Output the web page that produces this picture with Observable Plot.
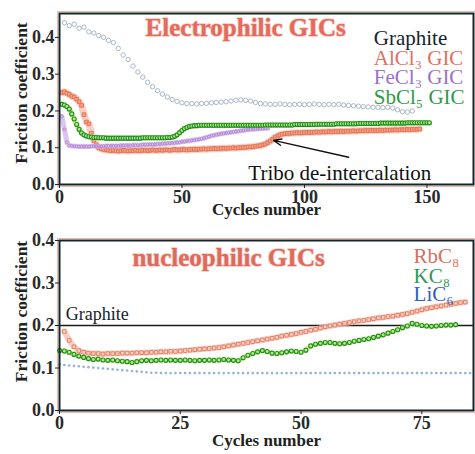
<!DOCTYPE html>
<html>
<head>
<meta charset="utf-8">
<script src="https://cdn.jsdelivr.net/npm/d3@7"></script>
<script src="https://cdn.jsdelivr.net/npm/@observablehq/plot@0.6"></script>
<style>
  html, body { margin: 0; padding: 0; background: #fff; }
  #charts { width: 475px; }
  #charts svg { display: block; }
  #charts svg text { font-family: "Liberation Serif", "DejaVu Serif", serif; }
</style>
</head>
<body>
<div id="charts"></div>
<script>
// ---------- Top panel: electrophilic GICs ----------
const topXTicks = [0, 50, 100, 150];
const yTicks = [0, 0.1, 0.2, 0.3, 0.4];

// Graphite: values at cycles 2, 4, 6, ...
const graphiteStart = 2, graphiteStep = 2;
const graphite = [
  0.440, 0.432, 0.436, 0.425, 0.428, 0.415, 0.412, 0.405, 0.400, 0.392,
  0.386, 0.370, 0.352, 0.340, 0.322, 0.306, 0.292, 0.278, 0.266, 0.255,
  0.246, 0.238, 0.231, 0.226, 0.222, 0.220, 0.220, 0.219, 0.220, 0.221,
  0.222, 0.223, 0.224, 0.225, 0.227, 0.229, 0.230, 0.229, 0.227, 0.223,
  0.220, 0.219, 0.218, 0.218, 0.219, 0.218, 0.217, 0.218, 0.218, 0.217,
  0.218, 0.219, 0.218, 0.217, 0.218, 0.217, 0.218, 0.216, 0.215, 0.214,
  0.213, 0.212, 0.211, 0.210, 0.210, 0.209, 0.210, 0.208, 0.203, 0.198,
  0.197, 0.200
];

// AlCl3 GIC: values at cycles 1, 2, 3, ...
const alcl3 = [
  0.250, 0.252, 0.248, 0.245, 0.240, 0.238, 0.232, 0.225, 0.215, 0.190,
  0.170, 0.165, 0.140, 0.120, 0.108, 0.100, 0.097, 0.095, 0.094, 0.093,
  0.092, 0.093, 0.092, 0.091, 0.092, 0.093, 0.092, 0.091, 0.092, 0.092,
  0.093, 0.092, 0.092, 0.093, 0.093, 0.092, 0.093, 0.094, 0.093, 0.093,
  0.094, 0.093, 0.094, 0.094, 0.093, 0.094, 0.095, 0.094, 0.094, 0.095,
  0.095, 0.094, 0.095, 0.095, 0.096, 0.095, 0.096, 0.096, 0.097, 0.096,
  0.097, 0.097, 0.098, 0.097, 0.098, 0.098, 0.099, 0.098, 0.099, 0.099,
  0.100, 0.099, 0.100, 0.100, 0.101, 0.101, 0.102, 0.102, 0.103, 0.104,
  0.105, 0.106, 0.108, 0.110, 0.114, 0.118, 0.123, 0.128, 0.132, 0.135,
  0.137, 0.138, 0.139, 0.139, 0.140, 0.140, 0.141, 0.140, 0.141, 0.141,
  0.142, 0.141, 0.142, 0.142, 0.143, 0.142, 0.143, 0.143, 0.143, 0.144,
  0.143, 0.144, 0.144, 0.144, 0.145, 0.144, 0.145, 0.145, 0.145, 0.146,
  0.145, 0.146, 0.146, 0.146, 0.147, 0.146, 0.147, 0.147, 0.147, 0.147,
  0.148, 0.147, 0.148, 0.148, 0.148, 0.148, 0.149, 0.148, 0.149, 0.149,
  0.149, 0.150, 0.149, 0.150, 0.150, 0.150, 0.151
];

// FeCl3 GIC: values at cycles 1, 2, 3, ...
const fecl3 = [
  0.185, 0.150, 0.115, 0.106, 0.105, 0.104, 0.104, 0.103, 0.103, 0.103,
  0.103, 0.103, 0.104, 0.104, 0.104, 0.104, 0.104, 0.104, 0.105, 0.105,
  0.105, 0.105, 0.105, 0.105, 0.106, 0.106, 0.106, 0.106, 0.106, 0.107,
  0.107, 0.107, 0.107, 0.108, 0.108, 0.108, 0.109, 0.109, 0.109, 0.110,
  0.110, 0.111, 0.111, 0.112, 0.112, 0.113, 0.113, 0.114, 0.115, 0.116,
  0.117, 0.118, 0.119, 0.120, 0.121, 0.122, 0.123, 0.124, 0.126, 0.128,
  0.130, 0.132, 0.134, 0.135, 0.137, 0.138, 0.139, 0.140, 0.141, 0.142,
  0.143, 0.144, 0.145, 0.146, 0.147, 0.148, 0.149, 0.150, 0.150, 0.151,
  0.151, 0.152, 0.152, 0.153, 0.153
];

// SbCl5 GIC: values at cycles 1, 2, 3, ...
const sbcl5 = [
  0.218, 0.216, 0.212, 0.205, 0.192, 0.178, 0.163, 0.150, 0.140, 0.135,
  0.132, 0.130, 0.129, 0.128, 0.128, 0.127, 0.127, 0.127, 0.126, 0.126,
  0.126, 0.126, 0.126, 0.126, 0.126, 0.126, 0.126, 0.126, 0.126, 0.126,
  0.126, 0.126, 0.126, 0.127, 0.127, 0.127, 0.127, 0.127, 0.127, 0.127,
  0.127, 0.127, 0.127, 0.128, 0.128, 0.129, 0.131, 0.135, 0.141, 0.147,
  0.152, 0.155, 0.158, 0.159, 0.160, 0.160, 0.161, 0.161, 0.161, 0.161,
  0.161, 0.161, 0.161, 0.161, 0.161, 0.161, 0.161, 0.161, 0.161, 0.161,
  0.161, 0.161, 0.161, 0.161, 0.161, 0.161, 0.161, 0.161, 0.161, 0.161,
  0.161, 0.161, 0.161, 0.162, 0.162, 0.162, 0.162, 0.162, 0.162, 0.162,
  0.162, 0.162, 0.162, 0.162, 0.162, 0.163, 0.163, 0.163, 0.163, 0.163,
  0.163, 0.163, 0.163, 0.163, 0.164, 0.164, 0.164, 0.164, 0.164, 0.164,
  0.164, 0.164, 0.165, 0.165, 0.165, 0.165, 0.165, 0.165, 0.165, 0.165,
  0.165, 0.166, 0.166, 0.166, 0.166, 0.166, 0.166, 0.166, 0.166, 0.166,
  0.167, 0.167, 0.167, 0.167, 0.167, 0.167, 0.167, 0.167, 0.167, 0.167,
  0.167, 0.168, 0.168, 0.168, 0.168, 0.168, 0.168, 0.168, 0.168, 0.168,
  0.168
];

const topLegend = ["Graphite", "AlCl₃ GIC", "FeCl₃ GIC", "SbCl₅ GIC"];
const topLegendColors = ["#16242c", "#e2705e", "#9a72c8", "#2f9a46"];

// ---------- Bottom panel: nucleophilic GICs ----------
const bottomXTicks = [0, 25, 50, 75];

// RbC8: values at cycles 1, 2, 3, ...
const rbc8 = [
  0.186, 0.165, 0.150, 0.141, 0.137, 0.135, 0.134, 0.134, 0.133, 0.134,
  0.134, 0.134, 0.135, 0.135, 0.135, 0.136, 0.136, 0.136, 0.137, 0.137,
  0.138, 0.138, 0.139, 0.139, 0.140, 0.141, 0.142, 0.143, 0.144, 0.145,
  0.146, 0.147, 0.148, 0.150, 0.152, 0.154, 0.156, 0.158, 0.160, 0.162,
  0.164, 0.166, 0.168, 0.170, 0.172, 0.175, 0.177, 0.179, 0.181, 0.184,
  0.186, 0.189, 0.191, 0.194, 0.197, 0.199, 0.201, 0.203, 0.205, 0.207,
  0.209, 0.211, 0.212, 0.214, 0.216, 0.218, 0.219, 0.221, 0.222, 0.224,
  0.226, 0.228, 0.231, 0.234, 0.237, 0.240, 0.242, 0.244, 0.246, 0.248,
  0.250, 0.252, 0.254, 0.255
];

// KC8: values at cycles 0, 1, 2, ...
const kc8 = [
  0.141, 0.140, 0.137, 0.132, 0.128, 0.125, 0.122, 0.120, 0.121, 0.119,
  0.118, 0.119, 0.117, 0.116, 0.115, 0.113, 0.115, 0.117, 0.118, 0.117,
  0.118, 0.119, 0.118, 0.119, 0.118, 0.118, 0.119, 0.118, 0.117, 0.118,
  0.118, 0.119, 0.118, 0.119, 0.120, 0.119, 0.118, 0.117, 0.124, 0.130,
  0.134, 0.138, 0.141, 0.139, 0.135, 0.134, 0.136, 0.138, 0.140, 0.139,
  0.137, 0.142, 0.152, 0.156, 0.158, 0.160, 0.160, 0.158, 0.157, 0.158,
  0.160, 0.163, 0.165, 0.167, 0.169, 0.172, 0.175, 0.178, 0.182, 0.186,
  0.190, 0.195, 0.199, 0.205, 0.203, 0.200, 0.199, 0.198, 0.199, 0.200,
  0.201, 0.201, 0.202
];

// LiC6: values at cycles 0, 1, 2, ...
const lic6 = [
  0.108, 0.107, 0.106, 0.105, 0.104, 0.103, 0.102, 0.101, 0.100, 0.099,
  0.098, 0.097, 0.096, 0.095, 0.094, 0.093, 0.092, 0.091, 0.090, 0.089,
  0.089, 0.088, 0.088, 0.088, 0.088, 0.088, 0.088, 0.088, 0.088, 0.088,
  0.088, 0.088, 0.088, 0.088, 0.088, 0.088, 0.088, 0.088, 0.088, 0.088,
  0.088, 0.088, 0.088, 0.088, 0.088, 0.088, 0.088, 0.088, 0.088, 0.088,
  0.088, 0.088, 0.088, 0.088, 0.088, 0.088, 0.088, 0.088, 0.088, 0.088,
  0.088, 0.088, 0.088, 0.088, 0.088, 0.088, 0.088, 0.088, 0.088, 0.088,
  0.088, 0.088, 0.088, 0.088, 0.088, 0.088, 0.088, 0.088, 0.088, 0.088,
  0.088, 0.088, 0.088, 0.088, 0.088, 0.088
];
const graphiteLevel = 0.2;

const bottomLegend = ["RbC₈", "KC₈", "LiC₆"];
const bottomLegendColors = ["#d9705e", "#2f9a52", "#2f5fc0"];

// ---------- helpers ----------
const toPoints = (values, start, step = 1) => values.map((v, i) => ({cycle: start + i * step, mu: v}));

const serif = "Liberation Serif, DejaVu Serif, serif";
const dark = "#16242c";

function axesAndFrame(xTicks, ylabelDy) {
  return [
    Plot.frame({stroke: "#f2b8a8", strokeWidth: 1, inset: -2}),
    Plot.axisY({ticks: yTicks, tickFormat: d => d.toFixed(1), tickSize: 4, tickPadding: 1,
                label: null, fontSize: 18, fontWeight: "bold", fontFamily: serif, fill: "#2a2a2a", stroke: dark}),
    Plot.axisX({ticks: xTicks, tickFormat: d => String(d), tickSize: 4, tickPadding: 2,
                label: null, fontSize: 18, fontWeight: "bold", fontFamily: serif, fill: "#2a2a2a", stroke: dark}),
    Plot.text(["Friction coefficient"], {frameAnchor: "left", textAnchor: "middle", dx: -38, dy: ylabelDy,
                rotate: -90, text: d => d, fontSize: 17.5, fontWeight: "bold", fontFamily: serif, fill: "#222"}),
  ];
}

// ---------- top plot ----------
const topChart = Plot.plot({
  width: 475, height: 222,
  marginLeft: 59, marginRight: 2, marginTop: 13, marginBottom: 38,
  x: {domain: [0, 169]},
  y: {domain: [0, 0.465]},
  style: {fontFamily: serif, background: "#fff", color: "#222"},
  marks: [
    ...axesAndFrame(topXTicks, -6),
    Plot.text(["Cycles number"], {frameAnchor: "bottom", dy: 30, text: d => d,
               fontSize: 17, fontWeight: "bold", fontFamily: serif, fill: "#222"}),
    // title
    Plot.text(["Electrophilic GICs"], {x: 76, y: 0.425, text: d => d, fontSize: 25, fontFamily: serif,
               fontWeight: "bold", fill: "#e46a5c", stroke: "#f7c6bb", strokeWidth: 1.5, paintOrder: "stroke"}),
    // graphite
    Plot.dot(toPoints(graphite, graphiteStart, graphiteStep), {x: "cycle", y: "mu", r: 2.2,
               stroke: "#a9b8c8", strokeWidth: 1, fill: "none"}),
    // AlCl3
    Plot.line(toPoints(alcl3, 1), {x: "cycle", y: "mu", stroke: "#f6bba6", strokeWidth: 7, strokeOpacity: 0.7}),
    Plot.dot(toPoints(alcl3, 1), {x: "cycle", y: "mu", symbol: "square", r: 2, stroke: "#e5765a",
               strokeWidth: 1, fill: "#f2a385"}),
    // FeCl3
    Plot.line(toPoints(fecl3, 1), {x: "cycle", y: "mu", stroke: "#d4b4ea", strokeWidth: 5, strokeOpacity: 0.8}),
    Plot.dot(toPoints(fecl3, 1), {x: "cycle", y: "mu", r: 1.4, stroke: "#b48ad8", strokeWidth: 1, fill: "none"}),
    // SbCl5
    Plot.line(toPoints(sbcl5, 1), {x: "cycle", y: "mu", stroke: "#d6f07a", strokeWidth: 5.5, strokeOpacity: 0.9}),
    Plot.dot(toPoints(sbcl5, 1), {x: "cycle", y: "mu", r: 2, stroke: "#1e8c2c", strokeWidth: 1.1, fill: "#b8ec80"}),
    // legend
    Plot.text(topLegend, {x: 128.3, y: (d, i) => [0.398, 0.343, 0.292, 0.237][i], text: d => d,
               fill: (d, i) => topLegendColors[i], textAnchor: "start", fontSize: 21, fontFamily: serif}),
    // annotation
    Plot.arrow([0], {x1: 118, y1: 0.074, x2: 87.4, y2: 0.12, stroke: "#111", strokeWidth: 1.4,
               headLength: 9, headAngle: 45}),
    Plot.text(["Tribo de-intercalation"], {x: 77.1, y: 0.030, text: d => d, textAnchor: "start",
               fontSize: 21, fontFamily: serif, fill: "#111"}),
    Plot.frame({stroke: dark, strokeWidth: 2}),
  ]
});

// ---------- bottom plot ----------
const bottomChart = Plot.plot({
  width: 475, height: 232,
  marginLeft: 59, marginRight: 2, marginTop: 18, marginBottom: 44,
  x: {domain: [0, 85.7]},
  y: {domain: [0, 0.4]},
  style: {fontFamily: serif, background: "#fff", color: "#222"},
  marks: [
    ...axesAndFrame(bottomXTicks, -14),
    Plot.text(["Cycles number"], {frameAnchor: "bottom", dy: 35, text: d => d,
               fontSize: 17, fontWeight: "bold", fontFamily: serif, fill: "#222"}),
    Plot.text(["nucleophilic GICs"], {x: 35, y: 0.358, text: d => d, fontSize: 25, fontFamily: serif,
               fontWeight: "bold", fill: "#de6a5c", stroke: "#f7c6bb", strokeWidth: 1.5, paintOrder: "stroke"}),
    Plot.ruleY([graphiteLevel], {stroke: "#1a1a1a", strokeWidth: 1.6}),
    Plot.text(["Graphite"], {x: 1.3, y: 0.226, text: d => d, textAnchor: "start", fontSize: 18,
               fontFamily: serif, fill: dark}),
    // LiC6
    Plot.dot(toPoints(lic6, 0), {x: "cycle", y: "mu", r: 1.3, fill: "#8fb2e2", stroke: "none"}),
    // RbC8
    Plot.line(toPoints(rbc8, 1), {x: "cycle", y: "mu", stroke: "#f6bba6", strokeWidth: 6, strokeOpacity: 0.7}),
    Plot.dot(toPoints(rbc8, 1), {x: "cycle", y: "mu", symbol: "square", r: 2, stroke: "#e4806a",
               strokeWidth: 1, fill: "#fbd4c4"}),
    // KC8
    Plot.line(toPoints(kc8, 0), {x: "cycle", y: "mu", stroke: "#d6f07a", strokeWidth: 5, strokeOpacity: 0.9}),
    Plot.dot(toPoints(kc8, 0), {x: "cycle", y: "mu", r: 2, stroke: "#1e8c2c", strokeWidth: 1.1, fill: "#b8ec80"}),
    // legend
    Plot.text(bottomLegend, {x: 73.3, y: (d, i) => [0.364, 0.316, 0.274][i], text: d => d,
               fill: (d, i) => bottomLegendColors[i], textAnchor: "start", fontSize: 21, fontFamily: serif}),
    Plot.frame({stroke: dark, strokeWidth: 2}),
  ]
});

const root = document.getElementById("charts");
root.appendChild(topChart);
root.appendChild(bottomChart);
</script>
</body>
</html>
